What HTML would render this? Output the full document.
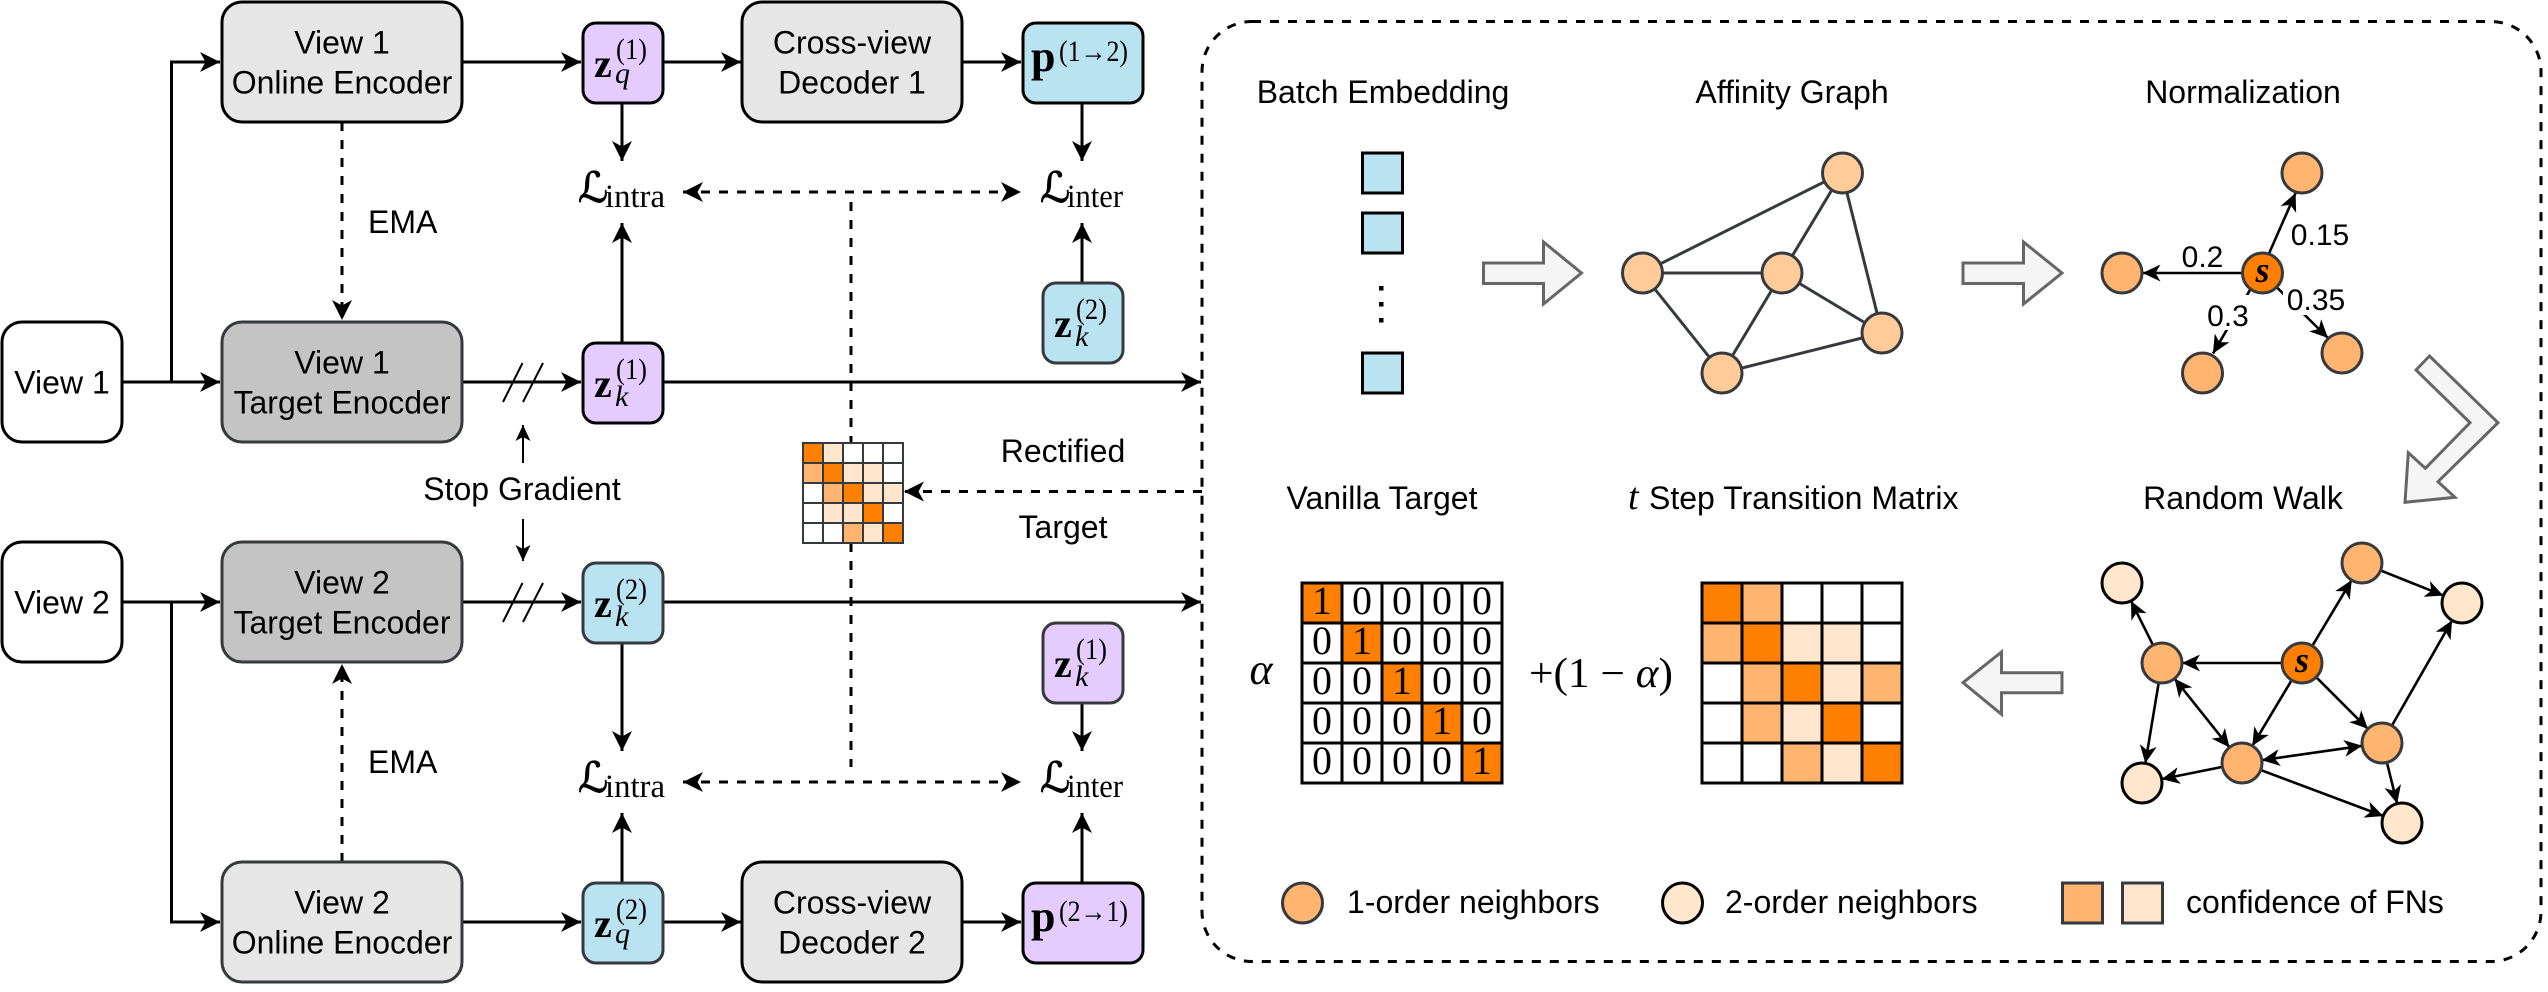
<!DOCTYPE html>
<html><head><meta charset="utf-8"><style>
html,body{margin:0;padding:0;background:#fff}
svg{display:block}
text{font-family:"Liberation Sans",sans-serif;font-size:32px;fill:#000}
text.s{font-family:"Liberation Serif",serif}
.c{text-anchor:middle}
.k{stroke:#000;stroke-width:3}
.g{stroke:#36393d;stroke-width:3}
.e{fill:#E6E6E6}.t{fill:#C4C4C4}.w{fill:#fff}.p{fill:#E5CCFF}.b{fill:#B9E3F0}
.l{stroke:#000;stroke-width:3;fill:none}
.d{stroke:#000;stroke-width:3;fill:none;stroke-dasharray:9 9}
.a{marker-end:url(#a)}
.as{marker-start:url(#as)}
.h{stroke:#000;stroke-width:2.6;fill:none;marker-end:url(#h)}
.hh{stroke:#000;stroke-width:2.6;fill:none;marker-end:url(#h);marker-start:url(#hs)}
.n1{fill:#FFCC99;stroke:#36393d;stroke-width:3}
.n2{fill:#FFB570;stroke:#36393d;stroke-width:3}
.n3{fill:#FFE6CC;stroke:#000;stroke-width:3}
.n0{fill:#FF8000;stroke:#36393d;stroke-width:3}
.ba{fill:#F5F5F5;stroke:#666;stroke-width:3}
.O{fill:#FF8000}.M{fill:#FFB570}.L{fill:#FFE6CC}.W{fill:#fff}
.grid rect{stroke:#000;stroke-width:3}
.sg rect{stroke:#36393d;stroke-width:2}
.zb{font-family:"Liberation Serif",serif;font-weight:bold;font-size:40px}
.sup{font-family:"Liberation Serif",serif;font-size:30px}
.sub{font-family:"Liberation Serif",serif;font-style:italic;font-size:30px}
.LL{font-family:"DejaVu Serif","DejaVu Sans",serif;font-size:42px;font-style:italic;stroke:#000;stroke-width:.8}
.ss{font-family:"Liberation Serif",serif;font-size:33px}
.si{font-family:"Liberation Serif",serif;font-style:italic;font-weight:bold;font-size:36px}
.dg{font-family:"Liberation Serif",serif;font-size:40px}
</style></head><body>
<svg width="2548" height="992" viewBox="0 0 2548 992" xmlns="http://www.w3.org/2000/svg">
<defs>
<marker id="a" markerUnits="userSpaceOnUse" markerWidth="22" markerHeight="22" refX="20" refY="11" orient="auto"><path d="M20,11 L0,1 L5.5,11 L0,21 Z" fill="#000"/></marker>
<marker id="as" markerUnits="userSpaceOnUse" markerWidth="22" markerHeight="22" refX="0" refY="11" orient="auto"><path d="M0,11 L20,1 L14.5,11 L20,21 Z" fill="#000"/></marker>
<marker id="h" markerUnits="userSpaceOnUse" markerWidth="20" markerHeight="20" refX="18" refY="10" orient="auto"><path d="M18,10 L0,1.5 L5,10 L0,18.5 Z" fill="#000"/></marker>
<marker id="hs" markerUnits="userSpaceOnUse" markerWidth="20" markerHeight="20" refX="2" refY="10" orient="auto"><path d="M2,10 L20,1.5 L15,10 L20,18.5 Z" fill="#000"/></marker>
<marker id="t" markerUnits="userSpaceOnUse" markerWidth="18" markerHeight="18" refX="16" refY="9" orient="auto"><path d="M16,9 L0,1.5 L4,9 L0,16.5 Z" fill="#000"/></marker>
</defs>

<!-- connectors left part -->
<path class="l a" d="M122,382 H220"/>
<path class="l a" d="M171.5,382 V62 H220"/>
<path class="l a" d="M122,602 H220"/>
<path class="l a" d="M171.5,602 V922 H220"/>
<path class="l a" d="M462,62 H581"/>
<path class="l a" d="M462,382 H581"/>
<path class="l a" d="M462,602 H581"/>
<path class="l a" d="M462,922 H581"/>
<path class="d a" d="M342,122 V320"/>
<path class="d a" d="M342,862 V664"/>
<path class="l a" d="M663,62 H741"/>
<path class="l a" d="M663,922 H741"/>
<path class="l a" d="M962,62 H1021"/>
<path class="l a" d="M962,922 H1021"/>
<path class="l a" d="M622,103 V161"/>
<path class="l a" d="M622,343 V223"/>
<path class="l a" d="M622,643 V751"/>
<path class="l a" d="M622,883 V813"/>
<path class="l a" d="M1082,103 V161"/>
<path class="l a" d="M1082,283 V223"/>
<path class="l a" d="M1082,702 V751"/>
<path class="l a" d="M1082,883 V813"/>
<path class="l a" d="M663,382 H1201"/>
<path class="l a" d="M663,602 H1201"/>
<path d="M851,202 V443 M851,543 V767" class="d"/>
<path class="d a as" d="M683,192 H1021"/>
<path class="d a as" d="M683,782 H1021"/>
<path class="d a" d="M1202,491.5 H904"/>
<path d="M503,402 L522.5,363 M523,402 L543,363 M503,622 L522.5,583 M523,622 L543,583" stroke="#000" stroke-width="2" fill="none"/>
<path d="M523,463 V425" stroke="#000" stroke-width="2" fill="none" marker-end="url(#t)"/>
<path d="M523,519 V561" stroke="#000" stroke-width="2" fill="none" marker-end="url(#t)"/>

<!-- boxes -->
<rect class="k w" x="2" y="322" width="120" height="120" rx="20"/>
<rect class="k w" x="2" y="542" width="120" height="120" rx="20"/>
<rect class="k e" x="222" y="2" width="240" height="120" rx="20"/>
<rect class="g t" x="222" y="322" width="240" height="120" rx="20"/>
<rect class="g t" x="222" y="542" width="240" height="120" rx="20"/>
<rect class="g e" x="222" y="862" width="240" height="120" rx="20"/>
<rect class="k e" x="742" y="2" width="220" height="120" rx="20"/>
<rect class="k e" x="742" y="862" width="220" height="120" rx="20"/>
<rect class="k p" x="583" y="23" width="80" height="80" rx="13"/>
<rect class="k p" x="583" y="343" width="80" height="80" rx="13"/>
<rect class="g b" x="583" y="563" width="80" height="80" rx="13"/>
<rect class="g b" x="583" y="883" width="80" height="80" rx="13"/>
<rect class="k b" x="1023" y="23" width="120" height="80" rx="13"/>
<rect class="k p" x="1023" y="883" width="120" height="80" rx="13"/>
<rect class="g b" x="1043" y="283" width="80" height="80" rx="13"/>
<rect class="g p" x="1043" y="623" width="80" height="80" rx="13"/>

<!-- box labels -->
<text class="c" x="62" y="393.5">View 1</text>
<text class="c" x="62" y="613.5">View 2</text>
<text class="c" x="342" y="53.5">View 1</text><text class="c" x="342" y="93.5">Online Encoder</text>
<text class="c" x="342" y="373.5">View 1</text><text class="c" x="342" y="413.5">Target Enocder</text>
<text class="c" x="342" y="593.5">View 2</text><text class="c" x="342" y="633.5">Target Encoder</text>
<text class="c" x="342" y="913.5">View 2</text><text class="c" x="342" y="953.5">Online Enocder</text>
<text class="c" x="852" y="53.5">Cross-view</text><text class="c" x="852" y="93.5">Decoder 1</text>
<text class="c" x="852" y="913.5">Cross-view</text><text class="c" x="852" y="953.5">Decoder 2</text>
<text x="368" y="233">EMA</text>
<text x="368" y="773">EMA</text>
<text class="c" x="522" y="500">Stop Gradient</text>
<text class="c" x="1063" y="462">Rectified</text>
<text class="c" x="1063" y="538">Target</text>

<!-- z labels -->
<g transform="translate(583,23)"><text class="zb" x="11" y="54">z</text><text class="sup" x="33" y="36" textLength="31" lengthAdjust="spacingAndGlyphs">(1)</text><text class="sub" x="32" y="60">q</text></g>
<g transform="translate(583,343)"><text class="zb" x="11" y="54">z</text><text class="sup" x="33" y="36" textLength="31" lengthAdjust="spacingAndGlyphs">(1)</text><text class="sub" x="32" y="63">k</text></g>
<g transform="translate(583,563)"><text class="zb" x="11" y="54">z</text><text class="sup" x="33" y="36" textLength="31" lengthAdjust="spacingAndGlyphs">(2)</text><text class="sub" x="32" y="63">k</text></g>
<g transform="translate(583,883)"><text class="zb" x="11" y="54">z</text><text class="sup" x="33" y="36" textLength="31" lengthAdjust="spacingAndGlyphs">(2)</text><text class="sub" x="32" y="60">q</text></g>
<g transform="translate(1043,283)"><text class="zb" x="11" y="54">z</text><text class="sup" x="33" y="36" textLength="31" lengthAdjust="spacingAndGlyphs">(2)</text><text class="sub" x="32" y="63">k</text></g>
<g transform="translate(1043,623)"><text class="zb" x="11" y="54">z</text><text class="sup" x="33" y="36" textLength="31" lengthAdjust="spacingAndGlyphs">(1)</text><text class="sub" x="32" y="63">k</text></g>
<text class="zb" x="1031" y="71" style="font-size:44px">p</text>
<text class="sup" x="1059" y="61" textLength="69" lengthAdjust="spacingAndGlyphs">(1→2)</text>
<text class="zb" x="1031" y="931" style="font-size:44px">p</text>
<text class="sup" x="1059" y="921" textLength="69" lengthAdjust="spacingAndGlyphs">(2→1)</text>

<!-- loss labels -->
<text class="LL" x="578" y="202">ℒ</text><text class="ss" x="605" y="207" textLength="60" lengthAdjust="spacingAndGlyphs">intra</text>
<text class="LL" x="1040" y="202">ℒ</text><text class="ss" x="1067" y="207" textLength="56" lengthAdjust="spacingAndGlyphs">inter</text>
<text class="LL" x="578" y="792">ℒ</text><text class="ss" x="605" y="797" textLength="60" lengthAdjust="spacingAndGlyphs">intra</text>
<text class="LL" x="1040" y="792">ℒ</text><text class="ss" x="1067" y="797" textLength="56" lengthAdjust="spacingAndGlyphs">inter</text>

<!-- small matrix -->
<g class="sg" transform="translate(803,443)">
<rect class="O" x="0" y="0" width="20" height="20"/><rect class="L" x="20" y="0" width="20" height="20"/><rect class="W" x="40" y="0" width="20" height="20"/><rect class="W" x="60" y="0" width="20" height="20"/><rect class="W" x="80" y="0" width="20" height="20"/>
<rect class="M" x="0" y="20" width="20" height="20"/><rect class="O" x="20" y="20" width="20" height="20"/><rect class="L" x="40" y="20" width="20" height="20"/><rect class="L" x="60" y="20" width="20" height="20"/><rect class="W" x="80" y="20" width="20" height="20"/>
<rect class="W" x="0" y="40" width="20" height="20"/><rect class="M" x="20" y="40" width="20" height="20"/><rect class="O" x="40" y="40" width="20" height="20"/><rect class="L" x="60" y="40" width="20" height="20"/><rect class="L" x="80" y="40" width="20" height="20"/>
<rect class="W" x="0" y="60" width="20" height="20"/><rect class="L" x="20" y="60" width="20" height="20"/><rect class="L" x="40" y="60" width="20" height="20"/><rect class="O" x="60" y="60" width="20" height="20"/><rect class="W" x="80" y="60" width="20" height="20"/>
<rect class="W" x="0" y="80" width="20" height="20"/><rect class="W" x="20" y="80" width="20" height="20"/><rect class="M" x="40" y="80" width="20" height="20"/><rect class="L" x="60" y="80" width="20" height="20"/><rect class="O" x="80" y="80" width="20" height="20"/>
</g>

<!-- dashed panel -->
<rect x="1202" y="21.5" width="1339" height="940" rx="50" fill="none" stroke="#000" stroke-width="3" stroke-dasharray="9 9"/>

<!-- titles -->
<text class="c" x="1383" y="103">Batch Embedding</text>
<text class="c" x="1792" y="103">Affinity Graph</text>
<text class="c" x="2243" y="103">Normalization</text>
<text class="c" x="1382" y="509">Vanilla Target</text>
<text class="s" x="1628" y="509" style="font-style:italic;font-size:38px">t</text>
<text x="1649" y="509">Step Transition Matrix</text>
<text class="c" x="2243" y="509">Random Walk</text>

<!-- batch embedding -->
<rect class="k b" x="1362.5" y="153" width="40" height="40"/>
<rect class="k b" x="1362.5" y="213" width="40" height="40"/>
<rect class="k b" x="1362.5" y="353" width="40" height="40"/>
<rect x="1379" y="286" width="4.5" height="4.5"/><rect x="1379" y="302" width="4.5" height="4.5"/><rect x="1379" y="318" width="4.5" height="4.5"/>

<!-- block arrows -->
<path class="ba" d="M1483.5,263 H1543.5 V242 L1581.5,273 L1543.5,304 V283.5 H1483.5 Z"/>
<path class="ba" d="M1963,263 H2023.5 V242 L2062,273 L2023.5,304 V283.5 H1963 Z"/>
<path class="ba" d="M2416,370 L2429.5,356 L2498,422.7 L2438,481.7 L2455,497.3 L2405,502.3 L2408.3,452.7 L2425.4,468.3 L2470,422.7 Z"/>
<path class="ba" d="M2062,672.7 H2001.5 V652 L1963,682.7 L2001.5,714.3 V692.7 H2062 Z"/>

<!-- affinity graph -->
<path d="M1642,273 L1842,173 M1842,173 L1782,273 M1842,173 L1882,333 M1642,273 H1782 M1782,273 L1882,333 M1782,273 L1722,373 M1642,273 L1722,373 M1722,373 L1882,333" stroke="#36393d" stroke-width="3" fill="none"/>
<circle class="n1" cx="1642.5" cy="273" r="20"/><circle class="n1" cx="1782" cy="273" r="20"/><circle class="n1" cx="1842.5" cy="173" r="20"/><circle class="n1" cx="1882" cy="333" r="20"/><circle class="n1" cx="1722" cy="373" r="20"/>

<!-- normalization -->
<path class="h" d="M2242.6,273 H2142.5"/>
<path class="h" d="M2269,253.5 L2295.6,193"/>
<path class="h" d="M2250,290 L2213,353.5"/>
<path class="h" d="M2276.5,287 L2328,338"/>
<rect x="2208" y="295" width="40.5" height="35" fill="#fff"/>
<rect x="2283" y="285" width="62" height="30" fill="#fff"/>
<text class="c" x="2320" y="245" style="font-size:30px">0.15</text>
<text class="c" x="2202.5" y="267" style="font-size:30px">0.2</text>
<text class="c" x="2228" y="326" style="font-size:30px">0.3</text>
<text class="c" x="2316" y="310" style="font-size:30px">0.35</text>
<circle class="n2" cx="2122" cy="273" r="20"/><circle class="n2" cx="2302" cy="173" r="20"/><circle class="n2" cx="2202.5" cy="373" r="20"/><circle class="n2" cx="2342" cy="353" r="20"/>
<circle class="n0" cx="2262.5" cy="273" r="20"/>
<text class="si c" x="2262.5" y="282">s</text>

<!-- random walk -->
<path class="h" d="M2282,663 H2182"/>
<path class="h" d="M2312.3,645.9 L2351.7,580.1"/>
<path class="h" d="M2380.6,570.4 L2443.4,595.6"/>
<path class="h" d="M2391.9,725.6 L2452.1,620.4"/>
<path class="h" d="M2316.1,677.1 L2367.9,728.9"/>
<path class="h" d="M2291.7,680.1 L2252.3,745.9"/>
<path class="h" d="M2153,645.1 L2131,600.9"/>
<path class="h" d="M2158.7,682.7 L2145.3,763.3"/>
<path class="hh" d="M2174.5,678.6 L2229.5,747.4"/>
<path class="hh" d="M2261.8,760.2 L2362.2,745.8"/>
<path class="h" d="M2222.4,766.9 L2161.6,779.1"/>
<path class="h" d="M2260.7,770 L2383.3,816"/>
<path class="h" d="M2386.9,762.4 L2397.1,803.6"/>
<circle class="n0" cx="2302" cy="663" r="20"/><text class="si c" x="2302" y="672">s</text>
<circle class="n2" cx="2362" cy="563" r="20"/><circle class="n2" cx="2162" cy="663" r="20"/><circle class="n2" cx="2242" cy="763" r="20"/><circle class="n2" cx="2382" cy="743" r="20"/>
<circle class="n3" cx="2462" cy="603" r="20"/><circle class="n3" cx="2122" cy="583" r="20"/><circle class="n3" cx="2142" cy="783" r="20"/><circle class="n3" cx="2402" cy="823" r="20"/>

<!-- vanilla matrix -->
<g class="grid" transform="translate(1302,583)">
<rect class="O" x="0" y="0" width="40" height="40"/><rect class="W" x="40" y="0" width="40" height="40"/><rect class="W" x="80" y="0" width="40" height="40"/><rect class="W" x="120" y="0" width="40" height="40"/><rect class="W" x="160" y="0" width="40" height="40"/>
<rect class="W" x="0" y="40" width="40" height="40"/><rect class="O" x="40" y="40" width="40" height="40"/><rect class="W" x="80" y="40" width="40" height="40"/><rect class="W" x="120" y="40" width="40" height="40"/><rect class="W" x="160" y="40" width="40" height="40"/>
<rect class="W" x="0" y="80" width="40" height="40"/><rect class="W" x="40" y="80" width="40" height="40"/><rect class="O" x="80" y="80" width="40" height="40"/><rect class="W" x="120" y="80" width="40" height="40"/><rect class="W" x="160" y="80" width="40" height="40"/>
<rect class="W" x="0" y="120" width="40" height="40"/><rect class="W" x="40" y="120" width="40" height="40"/><rect class="W" x="80" y="120" width="40" height="40"/><rect class="O" x="120" y="120" width="40" height="40"/><rect class="W" x="160" y="120" width="40" height="40"/>
<rect class="W" x="0" y="160" width="40" height="40"/><rect class="W" x="40" y="160" width="40" height="40"/><rect class="W" x="80" y="160" width="40" height="40"/><rect class="W" x="120" y="160" width="40" height="40"/><rect class="O" x="160" y="160" width="40" height="40"/>
</g>
<text class="dg c" x="1322 1362 1402 1442 1482" y="614">10000</text>
<text class="dg c" x="1322 1362 1402 1442 1482" y="654">01000</text>
<text class="dg c" x="1322 1362 1402 1442 1482" y="694">00100</text>
<text class="dg c" x="1322 1362 1402 1442 1482" y="734">00010</text>
<text class="dg c" x="1322 1362 1402 1442 1482" y="774">00001</text>

<!-- math -->
<text class="s c" x="1261" y="684" style="font-style:italic;font-size:44px">α</text>
<text class="s" x="1529" y="687" style="font-size:42px" textLength="144" lengthAdjust="spacingAndGlyphs">+(1 − <tspan font-style="italic">α</tspan>)</text>

<!-- transition matrix -->
<g class="grid" transform="translate(1702,583)">
<rect class="O" x="0" y="0" width="40" height="40"/><rect class="M" x="40" y="0" width="40" height="40"/><rect class="W" x="80" y="0" width="40" height="40"/><rect class="W" x="120" y="0" width="40" height="40"/><rect class="W" x="160" y="0" width="40" height="40"/>
<rect class="M" x="0" y="40" width="40" height="40"/><rect class="O" x="40" y="40" width="40" height="40"/><rect class="L" x="80" y="40" width="40" height="40"/><rect class="L" x="120" y="40" width="40" height="40"/><rect class="W" x="160" y="40" width="40" height="40"/>
<rect class="W" x="0" y="80" width="40" height="40"/><rect class="M" x="40" y="80" width="40" height="40"/><rect class="O" x="80" y="80" width="40" height="40"/><rect class="L" x="120" y="80" width="40" height="40"/><rect class="M" x="160" y="80" width="40" height="40"/>
<rect class="W" x="0" y="120" width="40" height="40"/><rect class="M" x="40" y="120" width="40" height="40"/><rect class="L" x="80" y="120" width="40" height="40"/><rect class="O" x="120" y="120" width="40" height="40"/><rect class="W" x="160" y="120" width="40" height="40"/>
<rect class="W" x="0" y="160" width="40" height="40"/><rect class="W" x="40" y="160" width="40" height="40"/><rect class="M" x="80" y="160" width="40" height="40"/><rect class="L" x="120" y="160" width="40" height="40"/><rect class="O" x="160" y="160" width="40" height="40"/>
</g>

<!-- legend -->
<circle class="n2" cx="1302.5" cy="903" r="20"/>
<text x="1347" y="913">1-order neighbors</text>
<circle class="n3" cx="1682.5" cy="903" r="20"/>
<text x="1725" y="913">2-order neighbors</text>
<rect x="2062.5" y="883" width="40" height="40" fill="#FFB570" stroke="#36393d" stroke-width="3"/>
<rect x="2122.5" y="883" width="40" height="40" fill="#FFE6CC" stroke="#36393d" stroke-width="3"/>
<text x="2186" y="913">confidence of FNs</text>
</svg>
</body></html>
